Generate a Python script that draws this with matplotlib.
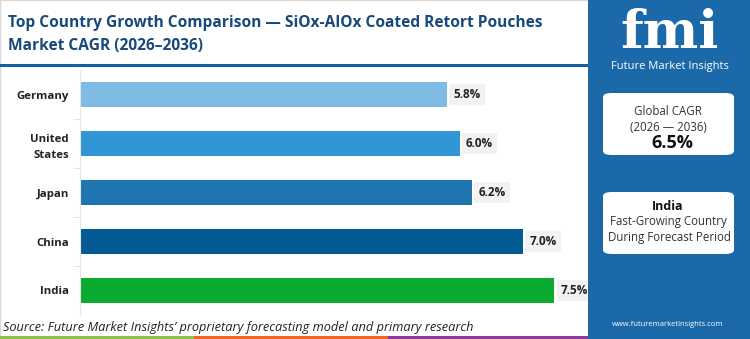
import matplotlib.pyplot as plt
from matplotlib.patches import Rectangle, FancyBboxPatch

plt.rcParams["font.family"] = ["Open Sans", "DejaVu Sans"]

countries = ["Germany", "United\nStates", "Japan", "China", "India"]
cagr = [5.8, 6.0, 6.2, 7.0, 7.5]
bar_colors = ["#7fbce3", "#3196d6", "#1f75b0", "#045a92", "#0aab2f"]

W, H = 750, 339
fig = plt.figure(figsize=(7.5, 3.39), dpi=100)
fig.patch.set_facecolor("white")


def fx(px):
    return px / W


def fy(py):
    return 1 - py / H


# light frame on the left panel
fig.add_artist(Rectangle((0, 0), fx(590), 1, transform=fig.transFigure,
                         fc="none", ec="#d9d9d9", lw=1))

# title
fig.text(fx(8), fy(23), "Top Country Growth Comparison \u2014 SiOx-AlOx Coated Retort Pouches",
         fontsize=11.2, fontweight="bold", color="#17497a", va="center", ha="left")
fig.text(fx(8), fy(46), "Market CAGR (2026\u20132036)",
         fontsize=11.2, fontweight="bold", color="#17497a", va="center", ha="left")

# title underline
fig.add_artist(Rectangle((0, fy(67)), fx(590), 3 / H, transform=fig.transFigure,
                         color="#17609e", lw=0))

# bar chart
ax = fig.add_axes([fx(80), fy(315), fx(508), 245 / H])
y = list(range(len(countries)))
ax.barh(y, cagr, height=0.5, color=bar_colors)
ax.set_ylim(4.5, -0.5)
ax.set_xlim(0, 8.03)
ax.set_yticks(y)
ax.set_yticklabels(countries, fontsize=8.2, fontweight="bold", color="#222222",
                   linespacing=1.6)
ax.set_yticks([i + 0.5 for i in y[:-1]], minor=True)
ax.tick_params(axis="y", which="major", length=0, pad=8)
ax.tick_params(axis="y", which="minor", length=4, color="#dddddd")
ax.set_xticks([])
for s in ["top", "right", "bottom"]:
    ax.spines[s].set_visible(False)
ax.spines["left"].set_color("#e6e6e6")
for yi, v in zip(y, cagr):
    ax.text(v + 0.1, yi, f"{v:.1f}%", va="center", ha="left", fontsize=8.5,
            fontweight="bold", color="#222222",
            bbox=dict(boxstyle="square,pad=0.35", fc="#f2f2f2", ec="none"))

# source
fig.text(fx(3), fy(327), "Source: Future Market Insights\u2019 proprietary forecasting model and primary research",
         fontsize=9.2, style="italic", color="#222222", va="center", ha="left")

# bottom strip
for x0, x1, c in [(0, 194, "#8bc34a"), (194, 388, "#f26522"), (388, 590, "#8e3a9d")]:
    fig.add_artist(Rectangle((fx(x0), 0), fx(x1 - x0), 3 / H, transform=fig.transFigure,
                             color=c, lw=0))

# right panel
fig.add_artist(Rectangle((fx(588), 0), fx(162), 1, transform=fig.transFigure,
                         color="#1b69a8", lw=0))
fig.text(fx(670), fy(33), "fmi", fontsize=38, fontweight="bold", color="white",
         ha="center", va="center", family=["DejaVu Serif"])
fig.text(fx(670), fy(66), "Future Market Insights", fontsize=8, color="white",
         ha="center", va="center")

for top, bottom in [(93, 155), (192, 254)]:
    fig.add_artist(FancyBboxPatch((fx(603), fy(bottom)), fx(131), (bottom - top) / H,
                                  boxstyle="round,pad=0,rounding_size=0.012",
                                  transform=fig.transFigure, fc="white", ec="none"))

fig.text(fx(668), fy(111), "Global CAGR", fontsize=8.3, color="#333333", ha="center", va="center")
fig.text(fx(668), fy(127), "(2026 \u2014 2036)", fontsize=8.3, color="#333333", ha="center", va="center")
fig.text(fx(672), fy(143), "6.5%", fontsize=13, fontweight="bold", color="#111111",
         ha="center", va="center")
fig.text(fx(668), fy(207), "India", fontsize=9, fontweight="bold", color="#111111",
         ha="center", va="center")
fig.text(fx(668), fy(222), "Fast-Growing Country", fontsize=8.3, color="#333333",
         ha="center", va="center")
fig.text(fx(670), fy(238), "During Forecast Period", fontsize=8.3, color="#333333",
         ha="center", va="center")
fig.text(fx(668), fy(325), "www.futuremarketinsights.com", fontsize=5.5, color="white",
         ha="center", va="center")

fig.savefig("out.png", dpi=100, facecolor="white")
